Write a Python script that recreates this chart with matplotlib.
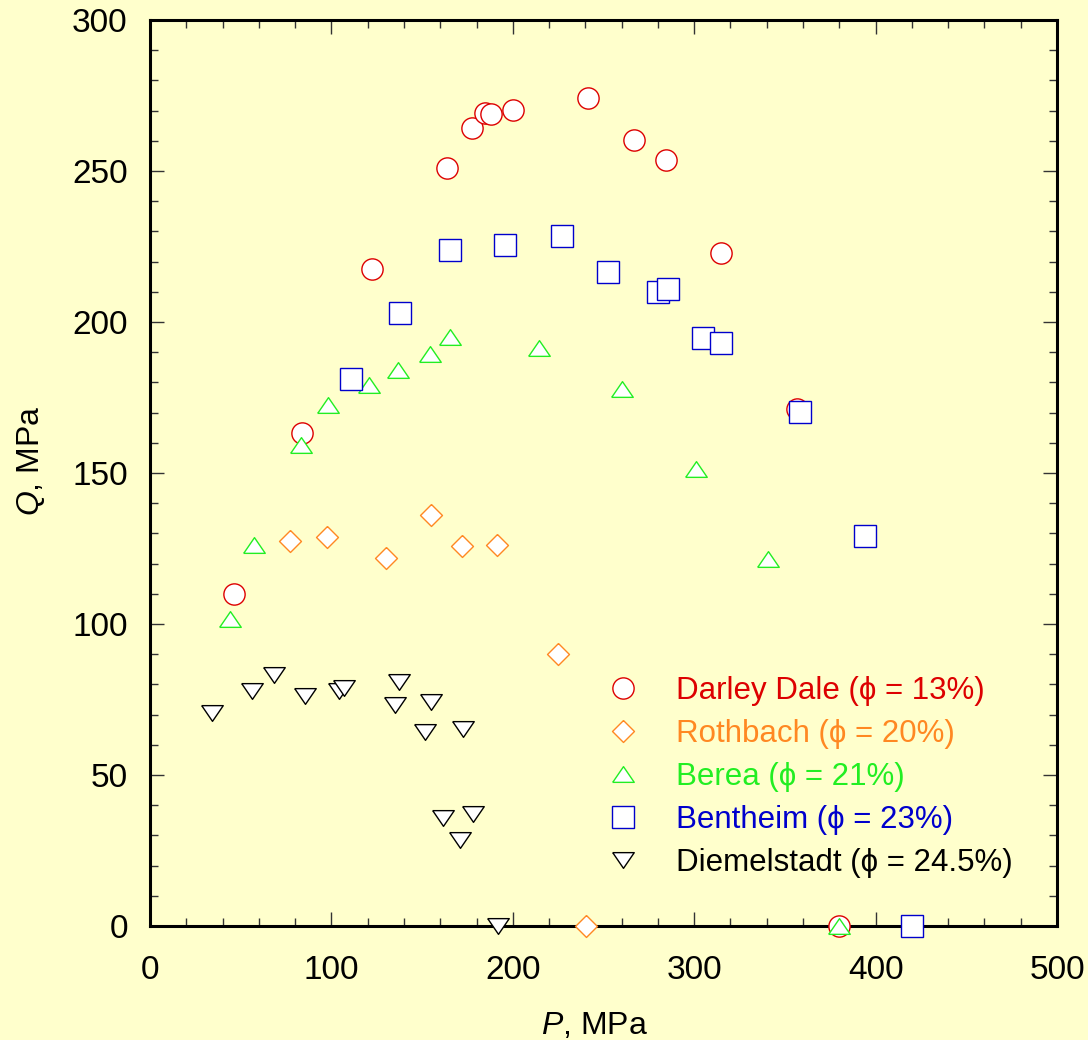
import matplotlib
matplotlib.use("Agg")
import matplotlib.pyplot as plt
from matplotlib.ticker import MultipleLocator

plt.rcParams['font.family'] = ['Liberation Sans', 'DejaVu Sans']
plt.rcParams['mathtext.fontset'] = 'custom'
plt.rcParams['mathtext.rm'] = 'Liberation Sans'
plt.rcParams['mathtext.it'] = 'Liberation Sans:italic'

# Darley Dale (phi = 13%)
dd_P = [46.3, 83.8, 122.4, 163.7, 177.5, 184.7, 188.0, 200.1, 241.5, 266.8, 284.5, 314.8, 356.7, 379.8]
dd_Q = [109.9, 163.2, 217.5, 251.0, 264.2, 269.2, 268.9, 270.2, 274.2, 260.3, 253.6, 222.8, 171.2, 0.0]
# Rothbach (phi = 20%)
rb_P = [77.2, 97.6, 130.1, 154.9, 172.0, 191.3, 224.9, 240.4]
rb_Q = [127.5, 128.8, 121.9, 136.1, 125.8, 126.2, 90.1, 0.0]
# Berea (phi = 21%)
be_P = [44.1, 57.3, 83.2, 98.1, 120.7, 136.7, 154.4, 165.4, 214.4, 260.2, 301.0, 340.7, 379.8]
be_Q = [101.7, 126.2, 159.3, 172.5, 179.1, 184.1, 189.4, 195.0, 191.4, 177.8, 151.3, 121.5, 0.0]
# Bentheim (phi = 23%)
bt_P = [110.8, 137.8, 165.4, 195.7, 227.1, 252.5, 280.0, 285.6, 304.9, 314.8, 358.3, 394.2, 420.0]
bt_Q = [181.1, 203.0, 223.8, 225.5, 228.5, 216.6, 209.9, 210.9, 194.7, 193.0, 170.2, 129.1, 0.0]
# Diemelstadt (phi = 24.5%)
dm_P = [34.3, 56.4, 68.2, 85.4, 104.2, 106.9, 137.3, 135.0, 154.9, 151.6, 172.5, 161.5, 178.0, 170.9, 191.8]
dm_Q = [70.4, 77.8, 83.0, 76.0, 77.8, 78.7, 80.8, 73.3, 74.3, 64.1, 65.3, 35.7, 37.2, 28.5, 0.0]

labels = ["Darley Dale (\u03d5 = 13%)", "Rothbach (\u03d5 = 20%)", "Berea (\u03d5 = 21%)",
          "Bentheim (\u03d5 = 23%)", "Diemelstadt (\u03d5 = 24.5%)"]
colors = ["#DD0000", "#FF8822", "#22EE22", "#0000CC", "#000000"]

tri_up = [(-1, -0.73), (1, -0.73), (0, 0.73), (-1, -0.73)]
tri_dn = [(-1, 0.73), (1, 0.73), (0, -0.73), (-1, 0.73)]
diamond = [(0, 1), (1, 0), (0, -1), (-1, 0), (0, 1)]

series = [
    (dd_P, dd_Q, 'o', 15.3),
    (rb_P, rb_Q, diamond, 15.8),
    (be_P, be_Q, tri_up, 15.5),
    (bt_P, bt_Q, 's', 15.8),
    (dm_P, dm_Q, tri_dn, 15.5),
]

bg = "#FFFFCC"
fig = plt.figure(figsize=(10.88, 10.40), dpi=100, facecolor=bg)
ax = fig.add_axes([150/1088, 114/1040, 907/1088, 906/1040])
ax.set_facecolor(bg)

handles = []
for (P, Q, m, ms), lab, c in zip(series, labels, colors):
    h, = ax.plot(P, Q, linestyle='none', marker=m, markersize=ms,
                 markerfacecolor='white', markeredgecolor=c, markeredgewidth=1.0,
                 clip_on=False, label=lab, zorder=3)
    handles.append(h)

ax.set_xlim(0, 500)
ax.set_ylim(0, 300)
ax.xaxis.set_major_locator(MultipleLocator(100))
ax.xaxis.set_minor_locator(MultipleLocator(20))
ax.yaxis.set_major_locator(MultipleLocator(50))
ax.yaxis.set_minor_locator(MultipleLocator(10))
ax.tick_params(which='both', direction='in', top=True, right=True, width=1.0, color='#333333')
ax.tick_params(which='major', length=10)
ax.tick_params(which='minor', length=6)
ax.tick_params(axis='x', which='major', labelsize=24, pad=21)
ax.tick_params(axis='y', which='major', labelsize=24, pad=16)
for s in ax.spines.values():
    s.set_linewidth(2.2)
    s.set_color('black')

ax.set_xlabel(r"$P$, MPa", fontsize=23, labelpad=18)
ax.set_ylabel(r"$Q$, MPa", fontsize=23, labelpad=18)
ax.xaxis.label.set_x(0.49)
ax.yaxis.label.set_y(0.513)

leg = ax.legend(handles=handles, loc='upper left', bbox_to_anchor=(0.49, 0.29),
                frameon=False, fontsize=22.5, handlelength=1.0, handletextpad=1.2,
                labelspacing=0.42, borderaxespad=0)
for t, c in zip(leg.get_texts(), colors):
    t.set_color(c)

fig.savefig("out.png", dpi=100, facecolor=bg)
